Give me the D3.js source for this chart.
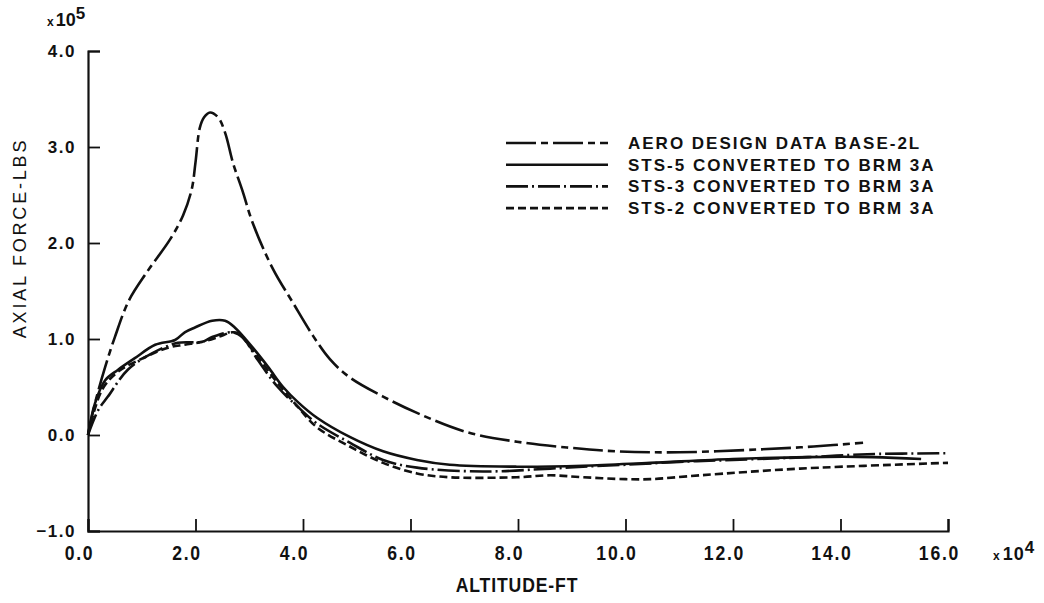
<!DOCTYPE html>
<html>
<head>
<meta charset="utf-8">
<script src="https://cdn.jsdelivr.net/npm/d3@7/dist/d3.min.js"></script>
<style>
  body { margin: 0; background: #fff; }
</style>
</head>
<body>
<div id="chart"></div>
<script>
// tick values (altitude in 1e4 ft, force in 1e5 lbs)
var xTicks = [0, 2, 4, 6, 8, 10, 12, 14, 16];
var yTicks = [-1, 0, 1, 2, 3, 4];

// series: [altitude x1e4 ft, axial force x1e5 lbs]
var aeroData = [[0,0],[0.13,0.33],[0.32,0.71],[0.5,1.02],[0.76,1.4],[1.1,1.7],[1.53,2.04],[1.77,2.29],
  [1.93,2.56],[2.0,2.84],[2.08,3.2],[2.16,3.31],[2.27,3.36],[2.42,3.31],[2.55,3.15],[2.7,2.83],
  [2.87,2.55],[3.07,2.2],[3.44,1.73],[3.81,1.38],[4.19,1.03],[4.5,0.79],[4.87,0.6],[5.49,0.4],
  [6.12,0.23],[7.05,0.03],[7.98,-0.07],[8.91,-0.13],[9.84,-0.17],[11.0,-0.18],[12.5,-0.15],
  [13.5,-0.12],[14.42,-0.08]];
var sts5Data = [[0,0],[0.13,0.33],[0.32,0.57],[0.56,0.68],[0.87,0.8],[1.25,0.94],[1.62,0.99],[1.8,1.07],
  [1.99,1.12],[2.31,1.19],[2.55,1.19],[2.73,1.12],[3.05,0.92],[3.35,0.71],[3.63,0.5],[3.91,0.34],
  [4.26,0.18],[4.87,-0.02],[5.49,-0.17],[6.12,-0.26],[6.73,-0.31],[7.98,-0.33],[9.21,-0.32],
  [10.46,-0.29],[12.0,-0.25],[13.38,-0.23],[14.6,-0.23],[15.5,-0.25]];
var sts3Data = [[0,0],[0.19,0.26],[0.37,0.4],[0.74,0.68],[1.19,0.85],[1.67,0.96],[2.12,0.97],[2.31,1.02],
  [2.68,1.07],[2.87,1.02],[3.16,0.78],[3.53,0.5],[3.91,0.29],[4.26,0.12],[4.87,-0.08],[5.49,-0.26],
  [6.12,-0.34],[7.35,-0.38],[8.6,-0.35],[9.21,-0.33],[10.0,-0.31],[11.0,-0.28],[12.0,-0.26],
  [13.4,-0.23],[14.5,-0.2],[16.0,-0.19]];
var sts2Data = [[0,0],[0.26,0.47],[0.56,0.66],[1.06,0.81],[1.49,0.91],[1.8,0.94],[2.12,0.97],[2.42,1.02],
  [2.68,1.07],[2.79,1.06],[3.16,0.81],[3.53,0.54],[3.91,0.29],[4.26,0.08],[4.87,-0.12],[5.49,-0.29],
  [6.12,-0.4],[6.73,-0.44],[7.98,-0.44],[8.6,-0.42],[9.21,-0.44],[10.0,-0.46],[10.46,-0.46],
  [11.39,-0.42],[13.25,-0.35],[16.0,-0.29]];

var legendLabels = ["AERO DESIGN DATA BASE-2L", "STS-5 CONVERTED TO BRM 3A",
  "STS-3 CONVERTED TO BRM 3A", "STS-2 CONVERTED TO BRM 3A"];

var series = [
  {data: aeroData, dash: "30,5,7,5"},
  {data: sts5Data, dash: null},
  {data: sts3Data, dash: "22,4,2,4"},
  {data: sts2Data, dash: "8,4"}
];

var W = 1044, H = 603;
var ink = "#111";

var svg = d3.select("#chart").append("svg")
  .attr("width", W)
  .attr("height", H)
  .style("font-family", "'Liberation Sans', Arial, sans-serif");

var x = d3.scaleLinear().domain([0, 16]).range([88, 948]);
var y = d3.scaleLinear().domain([-1, 4]).range([531, 51]);

// x axis, ticks pointing up into the plot
var gx = svg.append("g")
  .attr("transform", "translate(0," + y(-1) + ")")
  .call(d3.axisBottom(x).tickValues(xTicks).tickSize(-12).tickFormat(d3.format(".1f")));
gx.select(".domain").attr("stroke", ink).attr("stroke-width", 2.2);
gx.selectAll(".tick line").attr("stroke", ink).attr("stroke-width", 1.8);
// condensed look of the original lettering, set a little left of each tick
gx.selectAll(".tick text")
  .attr("y", null).attr("dy", null)
  .attr("transform", "translate(-9,29) scale(0.88,1)")
  .attr("fill", ink)
  .attr("font-size", 20)
  .attr("font-weight", "bold")
  .attr("letter-spacing", 2);

// y axis, ticks pointing right into the plot
var gy = svg.append("g")
  .attr("transform", "translate(" + x(0) + ",0)")
  .call(d3.axisLeft(y).tickValues(yTicks).tickSize(-12).tickPadding(12).tickFormat(d3.format(".1f")));
gy.select(".domain").attr("stroke", ink).attr("stroke-width", 2.2);
gy.selectAll(".tick line").attr("stroke", ink).attr("stroke-width", 1.8);
gy.selectAll(".tick text")
  .attr("fill", ink)
  .attr("font-size", 17)
  .attr("font-weight", "bold")
  .attr("letter-spacing", 1.5);

// axis titles
svg.append("text")
  .attr("transform", "translate(26,238) rotate(-90)")
  .attr("text-anchor", "middle")
  .attr("font-size", 18)
  .attr("letter-spacing", 2.8)
  .attr("fill", ink)
  .text("AXIAL FORCE-LBS");

svg.append("text")
  .attr("transform", "translate(517,592) scale(0.88,1)")
  .attr("text-anchor", "middle")
  .attr("font-size", 20)
  .attr("font-weight", "bold")
  .attr("letter-spacing", 1)
  .attr("fill", ink)
  .text("ALTITUDE-FT");

// exponent markers
var e5 = svg.append("text").attr("x", 47).attr("y", 26).attr("fill", ink).attr("font-weight", "bold");
e5.append("tspan").attr("font-size", 12).text("x");
e5.append("tspan").attr("font-size", 18).attr("dx", 2).text("10");
e5.append("tspan").attr("font-size", 17).attr("dy", -7).text("5");

var e4 = svg.append("text").attr("x", 993).attr("y", 560).attr("fill", ink).attr("font-weight", "bold")
  .attr("letter-spacing", 1);
e4.append("tspan").attr("font-size", 12).text("x");
e4.append("tspan").attr("font-size", 18).attr("dx", 2).text("10");
e4.append("tspan").attr("font-size", 17).attr("dy", -7).text("4");

// curves
var line = d3.line()
  .x(function(d) { return x(d[0]); })
  .y(function(d) { return y(d[1]); })
  .curve(d3.curveCatmullRom.alpha(0.5));

svg.selectAll(".curve")
  .data(series)
  .enter().append("path")
  .attr("class", "curve")
  .attr("fill", "none")
  .attr("stroke", ink)
  .attr("stroke-width", 2.6)
  .attr("stroke-dasharray", function(d) { return d.dash; })
  .attr("d", function(d) { return line(d.data); });

// legend
var lg = svg.append("g").attr("transform", "translate(506,143)");
var rows = lg.selectAll("g")
  .data(series)
  .enter().append("g")
  .attr("transform", function(d, i) { return "translate(0," + (i * 21.7) + ")"; });
rows.append("line")
  .attr("x1", 0).attr("x2", 102).attr("y1", 0).attr("y2", 0)
  .attr("stroke", ink)
  .attr("stroke-width", 2.6)
  .attr("stroke-dasharray", function(d) { return d.dash; });
rows.append("text")
  .attr("x", 122).attr("y", 6)
  .attr("font-size", 17)
  .attr("font-weight", "bold")
  .attr("letter-spacing", 2)
  .attr("fill", ink)
  .text(function(d, i) { return legendLabels[i]; });
</script>
</body>
</html>
